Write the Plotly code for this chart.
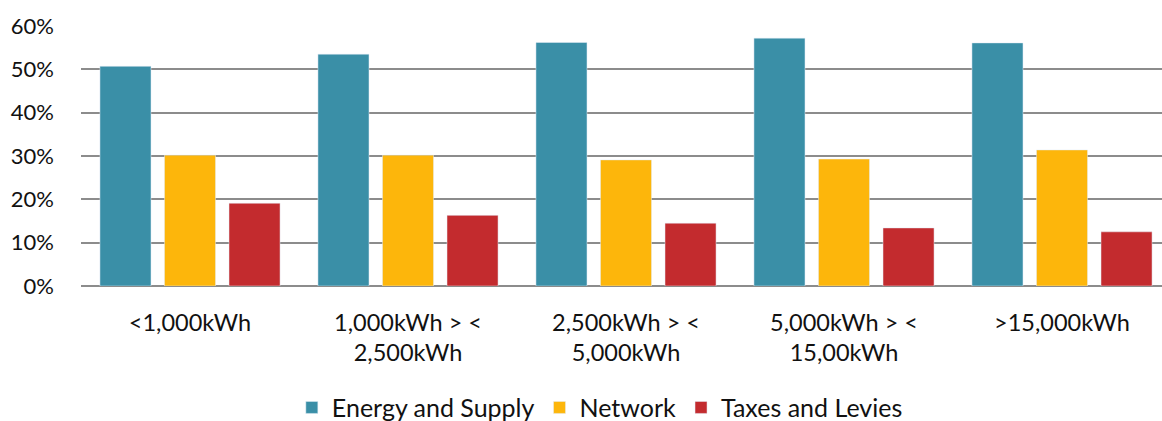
import plotly.graph_objects as go

categories = [
    "<1,000kWh",
    "1,000kWh > <<br>2,500kWh",
    "2,500kWh > <<br>5,000kWh",
    "5,000kWh > <<br>15,00kWh",
    ">15,000kWh",
]
energy_supply = [0.507, 0.535, 0.562, 0.572, 0.561]
network = [0.302, 0.302, 0.291, 0.293, 0.314]
taxes_levies = [0.191, 0.163, 0.145, 0.134, 0.125]

tick_vals = [0, 0.1, 0.2, 0.3, 0.4, 0.5, 0.6]
tick_text = ["0%", "10%", "20%", "30%", "40%", "50%", "60%"]

FONT = "Lato"
GRID = "#8c8c8c"

fig = go.Figure()
for name, vals, color in [
    ("Energy and Supply", energy_supply, "#3a8fa7"),
    ("Network", network, "#fdb60b"),
    ("Taxes and Levies", taxes_levies, "#c32b2e"),
]:
    fig.add_trace(go.Bar(x=categories, y=vals, name=name, marker_color=color))

# plot area runs slightly past the right edge of the window in the original
fig.update_layout(
    width=1171,
    height=421,
    margin=dict(l=81, r=0, t=26, b=135, autoexpand=False),
    barmode="group",
    bargap=0.112,
    bargroupgap=0.209,
    plot_bgcolor="white",
    paper_bgcolor="white",
    font=dict(family=FONT, size=23, color="#111111"),
    legend=dict(
        orientation="h",
        x=0.476,
        xanchor="center",
        y=-0.468,
        yanchor="middle",
        font=dict(size=25),
        itemwidth=30,
        traceorder="normal",
    ),
    xaxis=dict(
        showgrid=False,
        showline=False,
        automargin=False,
        ticklabelstandoff=20,
        tickfont=dict(size=23.5),
    ),
    yaxis=dict(
        range=[0, 0.6],
        tickvals=tick_vals,
        ticktext=tick_text,
        showgrid=True,
        gridcolor=GRID,
        gridwidth=2,
        zeroline=True,
        zerolinecolor=GRID,
        zerolinewidth=2,
        automargin=False,
        ticklabelstandoff=26,
        tickfont=dict(size=22),
    ),
)

fig.write_html(
    "out.html",
    config={"displayModeBar": False},
    post_script="document.body.style.margin='0';document.body.style.overflow='hidden';",
)
